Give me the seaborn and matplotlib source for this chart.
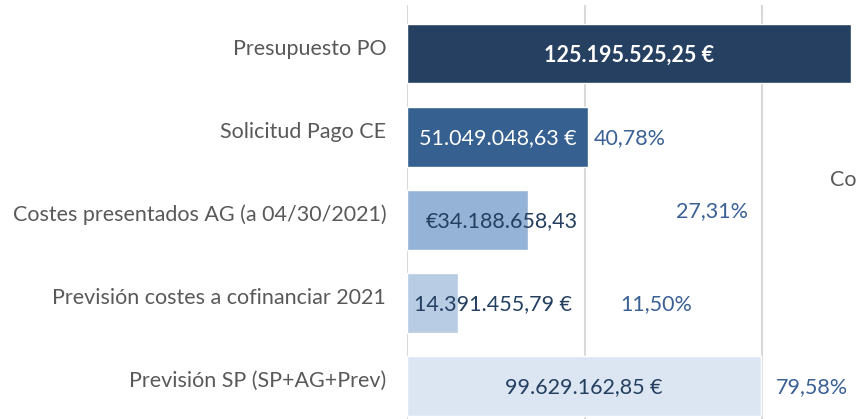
import matplotlib
matplotlib.use("Agg")
import matplotlib.pyplot as plt
import matplotlib.transforms as mtransforms
import seaborn as sns
import pandas as pd

categories = ["Presupuesto PO", "Solicitud Pago CE", "Costes presentados AG (a 04/30/2021)",
              "Previsión costes a cofinanciar 2021", "Previsión SP (SP+AG+Prev)"]
values = [125195525.25, 51049048.63, 34188658.43, 14391455.79, 99629162.85]
value_labels = ["125.195.525,25 €", "51.049.048,63 €", "€34.188.658,43",
                "14.391.455,79 €", "99.629.162,85 €"]
pct_labels = [None, "40,78%", "27,31%", "11,50%", "79,58%"]

bar_colors = ["#264061", "#35608F", "#95B3D7", "#B8CCE4", "#DCE6F2"]
label_colors = ["white", "white", "#243F60", "#243F60", "#243F60"]
# label layout (data-unit x centres, pixel y offsets)
value_x = [None, None, 26.76e6, 24.2e6, None]
pct_x = [None, 62.8e6, 85.9e6, 70.1e6, 114.1e6]
pct_dy = [0, 0, -10, 0, 0]

sns.set_theme(style="white")
plt.rcParams['font.family'] = ['Lato', 'DejaVu Sans']

FS = 15.5
W, H = 856, 419
fig = plt.figure(figsize=(W / 100, H / 100), dpi=100)
left_px = 407
ax = fig.add_axes([left_px / W, 0, (W - left_px) / W, 1 - 5 / H])

df = pd.DataFrame({"cat": categories, "val": values})
sns.barplot(data=df, y="cat", x="val", hue="cat", palette=bar_colors, orient="h",
            width=0.72, legend=False, ax=ax, zorder=2, saturation=1)

px_per_unit = 177.5 / 50e6
ax.set_xlim(0, (W - left_px) / px_per_unit)
ax.set_ylim(4 + (419 - 386) / 83.1, -(53.5 - 5) / 83.1)
ax.set_xticks([0, 50e6, 100e6])
ax.xaxis.grid(True, color="#D9D9D9", linewidth=1.5, zorder=0)
ax.yaxis.grid(False)
ax.set_axisbelow(True)
for s in ax.spines.values():
    s.set_visible(False)
ax.tick_params(axis="x", labelbottom=False, length=0)
ax.tick_params(axis="y", length=0, pad=15, labelsize=FS, labelcolor="#595959")
ax.set_xlabel("")
ax.set_ylabel("")

shift_up = mtransforms.ScaledTranslation(0, 7 / 100, fig.dpi_scale_trans)
for lbl in ax.get_yticklabels():
    lbl.set_transform(lbl.get_transform() + shift_up)

for i, (v, lab) in enumerate(zip(values, value_labels)):
    x = value_x[i] if value_x[i] is not None else v / 2
    ax.annotate(lab, (x, i), xytext=(0, -1), textcoords="offset points",
                ha="center", va="center", fontsize=FS,
                color=label_colors[i], fontweight="bold" if i == 0 else "normal", zorder=3)
    if pct_labels[i]:
        ax.annotate(pct_labels[i], (pct_x[i], i), xytext=(0, -pct_dy[i] * 0.72 - 1),
                    textcoords="offset points", ha="center", va="center",
                    fontsize=FS, color="#3A6095", zorder=3)

fig.text(830 / W, 1 - 180 / H, "Co", ha="left", va="center", fontsize=FS, color="#595959")

fig.savefig("out.png", dpi=100)
